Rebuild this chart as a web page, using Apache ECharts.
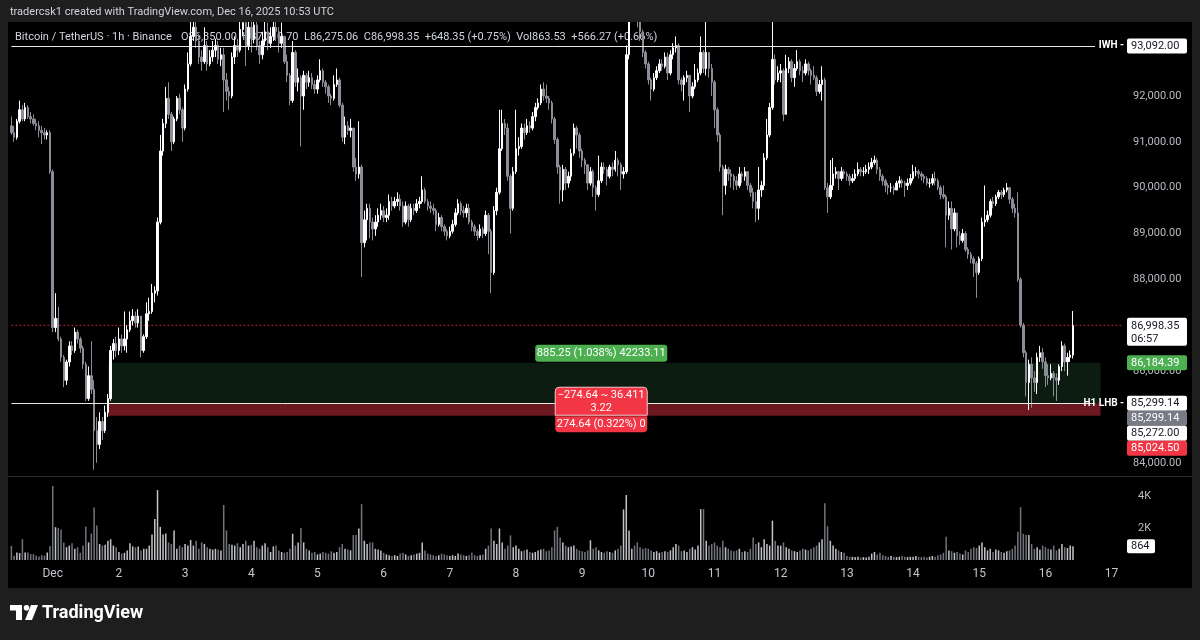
<!DOCTYPE html>
<html><head><meta charset="utf-8">
<script src="https://cdn.jsdelivr.net/npm/echarts@6.0.0/dist/echarts.min.js"></script>
<style>html,body{margin:0;padding:0;background:#000;}#c{width:1200px;height:640px;}</style>
</head><body><div id="c"></div>
<script>
// ---- DATA (BTC/USDT 1h, Binance) : Nov 30 09:00 UTC .. Dec 16 10:00 UTC ----
const FIRST_OPEN = 91350;   // hourly candles open at the previous close
const closes = [
 91200,91100,91450,91700,91500,91750,91550,91500,91400,91350,91250,91200,91150,91200,90350, // Nov30 09-23
 86950,87150,86700,86300,85800,86200,86550,86450,86850,86700,86500,86150,85400,85900,85600,84700,84400,84900,84700,85100,85400,86450,86600,86450, // Dec1
 86700,86550,86700,86900,87100,87200,87050,87200,86450,86750,87250,87300,87700,87750,89250,90800,91400,91950,91600,91000,91500,91950,91700,91300, // Dec2
 92150,92700,93300,93500,93200,92850,92750,93100,92700,92850,93000,93100,92800,92900,92350,92100,92000,92850,93100,93000,93450,93600,93100,93500, // Dec3
 93250,93550,93100,92900,93200,93400,93150,93300,93500,93400,93150,93300,92750,92450,91900,92950,92300,92400,92000,92450,92300,92400,92250,92150, // Dec4
 92350,92550,92300,92200,92000,91950,92250,92350,91800,91100,91350,91250,91300,90450,90300,90450,88800,89300,89550,89250,89100,89250,89400,89500, // Dec5
 89350,89400,89700,89600,89700,89750,89600,89250,89600,89300,89550,89500,89650,89700,89950,89700,89600,89550,89500,89200,89350,89150,89050,88950, // Dec6
 89050,89200,89450,89650,89500,89450,89550,89250,89150,89050,88950,89100,89000,89400,89050,88150,89500,89900,90850,91400,91300,90250,89550,90350, // Dec7
 90850,90900,91300,91200,91350,91300,91550,91750,91850,92150,92000,91950,91850,91500,91050,90450,89950,90400,90100,90250,90750,91300,91150,90800, // Dec8
 90600,90500,90100,90350,90000,89850,90150,90450,90400,90250,90450,90400,90600,90500,90300,90350,92900,94100,94200,94000,93800,93400,92950,92700, // Dec9
 92350,92150,92400,92550,92700,92650,92850,92500,92900,93050,93100,92350,92250,92400,92450,92000,92200,92350,92500,92950,92600,92950,92600,92300, // Dec10
 91700,91150,90450,90050,90400,90300,90250,90150,90050,90300,90250,90350,90050,89900,89700,89550,89950,90050,90650,91150,91750,92800,92350,92500, // Dec11
 92550,91600,92600,92750,92400,92600,92750,92550,92500,92700,92550,92450,92400,92100,92250,92350,90000,89800,90050,90300,90350,90200,90350,90300, // Dec12
 90250,90150,90200,90300,90400,90350,90350,90400,90450,90550,90600,90400,90250,90150,90050,90000,90000,89950,90100,90150,90100,90050,90100,90200, // Dec13
 90350,90350,90300,90250,90200,90100,90100,90200,90150,90000,89850,89800,89400,89550,89100,89450,88950,88850,89000,88650,88550,88450,88350,88150, // Dec14
 88450,89250,89300,89400,89700,89650,89800,89900,89850,89950,90000,89750,89550,89450,88000,87000,86400,85750,86150,85850,85750,86300,86400,86200, // Dec15
 85900,85850,85950,85850,85800,86100,86550,86200,86300,86350,86998.35 // Dec16 00-10
];
const highs = [
 91550,91350,91500,91900,91800,91850,91800,91650,91600,91500,91450,91350,91300,91250,91250,
 90400,87700,87400,86750,86350,86250,86650,86650,86950,86900,86750,86550,86200,86100,86650,85800,85000,85100,85000,85250,85500,86550,86700,86750,
 86950,86800,87300,87000,87300,87350,87300,87350,87200,86800,87500,87600,87900,87850,89350,91150,91500,92200,92300,91650,91550,92000,92050,91750,
 92250,92950,93800,94000,93900,93350,93000,93500,93200,93000,93200,93250,93200,93050,93050,92500,92200,92950,93300,93250,93900,94100,93900,93800,
 93650,93900,93700,93200,93400,93900,93600,93500,93800,93700,93500,93600,93300,92900,92500,93200,93000,92600,92450,92550,92500,92550,92500,92350,
 92450,92800,92600,92350,92250,92050,92450,92600,92400,91850,91550,91450,91500,91300,90650,91450,90500,89500,89650,89650,89350,89400,89550,89650,
 89600,89550,89850,89800,89800,89900,89850,89700,89700,89650,89650,89650,89750,89800,90250,90000,89750,89700,89650,89550,89450,89400,89200,89100,
 89150,89300,89550,89750,89700,89600,89650,89650,89300,89200,89100,89200,89150,89500,89450,89100,89600,90000,91700,91700,91500,91400,90300,90450,
 91700,91100,91400,91400,91500,91450,91650,91850,91950,92250,92300,92250,92000,91900,91550,91100,90500,90500,90450,90350,90850,91400,91350,91200,
 90850,90650,90500,90450,90400,90050,90700,90550,90550,90450,90500,90550,90800,90650,90550,90450,93100,94600,94600,94400,94200,93900,93450,93000,
 92750,92400,92500,92650,92800,92800,92950,92950,93000,93150,93300,93150,92400,92450,92550,92450,92300,92700,92600,93300,93000,94400,92950,92700,
 92350,91750,91200,90500,90500,90450,90400,90300,90250,90450,90350,90450,90350,90100,90000,89900,90450,90150,90750,91500,91850,93700,92900,92650,
 92700,92600,92900,92850,92800,92700,93000,92800,92650,92800,92750,92600,92650,92450,92350,92650,92400,90100,90600,90650,90450,90350,90450,90400,
 90350,90300,90300,90400,90550,90450,90450,90500,90550,90650,90700,90650,90450,90300,90200,90100,90100,90050,90150,90250,90200,90150,90200,90300,
 90500,90450,90400,90350,90300,90250,90200,90300,90350,90200,90050,90050,89850,89700,89700,89550,89450,89050,89100,89050,88700,88600,88500,88400,
 88500,89350,90050,89500,89750,89800,89850,89950,89950,90000,90100,90000,89800,89650,89900,88050,87050,86450,86250,86300,86000,86400,86550,86500,
 86300,86150,86150,86000,85950,86150,86650,86600,86400,86450,87310.70
];
const lows = [
 91150,91000,91050,91400,91450,91450,91500,91400,91350,91250,91100,90950,91050,91050,90300,
 86850,86850,86650,86200,85650,85700,86100,86350,86400,86600,86400,86050,85350,85350,85500,83850,84000,84300,84500,84650,85000,85350,86250,86300,
 86350,86400,86450,86400,86850,87000,86950,86950,86300,86400,86700,87100,87250,87500,87650,89200,90700,91300,91500,90800,90950,91450,91600,91000,
 91250,92100,92650,93200,93050,92700,92550,92700,92550,92650,92750,92850,92700,92650,91650,91900,91700,91950,92700,92850,92950,93300,92650,93000,
 92950,93150,93000,92700,92800,93100,93000,93050,93200,93200,92950,93050,92700,92300,91800,91850,92200,92100,90900,91700,92150,92200,92150,92050,
 92050,92300,92200,92050,91850,91800,91900,92200,91750,91000,90950,91150,91100,90350,90150,90200,88050,88700,88850,88900,88850,88950,89150,89300,
 89250,89250,89300,89500,89550,89600,89500,89150,89200,89150,89250,89400,89450,89550,89650,89650,89500,89450,89400,89050,89150,89050,88950,88850,
 88900,89000,89150,89400,89400,89350,89350,89200,89050,88950,88850,88900,88900,88950,88550,87700,88100,89400,89850,90800,91150,90150,89000,89500,
 90300,90700,90850,91050,91150,91200,91250,91450,91700,91800,91900,91850,91700,91400,90950,90300,89650,89700,89950,90000,90150,90700,90850,90650,
 90450,90300,89950,90050,89800,89500,89800,90100,90300,90050,90200,90250,90350,90250,89950,90200,90300,92800,93900,93800,93500,93200,92850,92600,
 92250,91900,92100,92350,92500,92550,92600,92350,92450,92800,92950,92250,92100,91900,92300,91650,91950,92150,92300,92450,92500,92450,92400,92000,
 91300,91000,90350,89400,89850,90150,90000,89950,89950,90000,90100,90150,89950,89800,89550,89250,89300,89800,89950,90600,91100,91700,92250,92300,
 92300,91450,91600,92500,92300,92200,92550,92450,92300,92450,92450,92250,92350,92000,92050,91900,89950,89450,89750,89950,90200,89950,90150,90200,
 90150,90050,90100,90150,90250,90250,90250,90300,90300,90400,90500,90300,90150,90050,89900,89850,89900,89850,89950,90000,90000,89800,89950,90050,
 90150,90250,90200,90150,90100,90050,90000,90050,90050,89950,89750,89750,88700,89300,88650,89050,88700,88750,88800,88600,88450,88350,88050,87600,
 88100,88400,89150,89250,89350,89550,89600,89750,89750,89800,89900,89650,89450,89350,87950,86950,86300,85450,85150,85200,85550,85500,86200,86050,
 85650,85700,85800,85450,85350,85700,86000,86000,85900,86200,86275.06
];
const volumes = [
 880,270,470,430,1300,470,470,370,370,270,220,300,270,470,880,
 4630,2050,2000,1900,1100,800,900,1050,700,800,450,900,2100,1100,1650,3280,2150,1000,900,950,1200,1300,900,800,
 500,400,450,600,1050,850,800,850,600,700,700,900,1600,2560,4370,2070,1600,1650,1100,1000,1850,700,900,800,
 1000,900,1250,900,1200,700,1100,1000,800,700,650,700,650,600,3440,1850,1000,950,900,1050,800,1000,1200,900,
 950,1200,800,700,900,1050,800,500,850,900,600,500,450,500,700,1640,900,1100,2000,1100,700,600,450,500,
 350,400,500,450,400,550,450,500,800,1000,700,650,600,1560,1560,1970,3490,1200,1000,1100,1100,700,650,600,
 450,350,300,250,300,250,400,450,350,250,300,350,400,450,1100,600,400,350,300,250,300,400,350,300,
 250,300,250,400,350,300,250,300,450,300,250,300,350,700,900,1970,1200,1000,1970,1100,700,900,1540,800,
 900,700,550,600,650,500,450,500,600,650,700,550,600,800,1850,2070,1400,1100,900,800,850,900,700,600,
 550,500,600,1230,700,800,600,500,450,550,500,450,600,700,900,3160,4060,1850,700,900,1100,800,700,750,
 700,600,500,550,450,500,550,500,600,800,1000,900,550,600,500,700,800,650,900,3180,3180,1200,900,1000,
 1100,900,800,1200,800,700,600,550,600,700,500,550,500,700,1400,1000,1100,800,1300,1000,900,2460,1200,900,
 900,1100,800,700,600,550,500,600,700,650,600,700,800,900,1100,1300,3550,2110,1200,900,700,600,500,450,
 250,200,200,180,200,150,180,150,200,400,500,350,450,300,250,200,250,200,180,200,250,200,180,200,
 200,250,200,180,200,150,200,250,200,300,350,450,1450,600,550,450,500,400,350,600,500,700,800,750,
 900,1100,800,600,700,500,650,600,500,450,550,600,700,900,1760,3300,1640,1560,1560,1000,700,800,650,900,
 800,700,650,900,600,700,1000,800,750,900,864
];
const priceTicks = [84000, 86000, 88000, 89000, 90000, 91000, 92000];
const volTicks = [2000, 4000];
// drawn levels
const IWH = 93092.00, H1LHB = 85299.14, LAST = 86998.35;
const TARGET = 86184.39, ENTRY = 85299.14, STOP = 85024.50, STOP_LBL = 85272.00;
const POS_START = 35, POS_END = 395;   // candle indexes of the position tool
const LAST_VOL = 864;

// ---- chart ----
const SLOTS = 404;
const start = Date.UTC(2025, 10, 30, 9);
const cats = [];
for (let k = 0; k < SLOTS; k++) cats.push(new Date(start + k * 3600e3).toISOString().slice(0, 13));
const opens = closes.map((c, i) => i === 0 ? FIRST_OPEN : closes[i - 1]);
const candles = closes.map((c, i) => {
  const o = opens[i];
  return [o, c, Math.min(lows[i], o, c), Math.max(highs[i], o, c)];
});
const UP = '#ffffff', DOWN = '#8b8e97';
const vols = volumes.map((v, i) => ({ value: v, itemStyle: { color: closes[i] >= opens[i] ? 'rgba(215,216,220,0.9)' : 'rgba(125,128,138,0.9)' } }));
const fmt2 = v => v.toLocaleString('en-US', { minimumFractionDigits: 2, maximumFractionDigits: 2 });
const FONT = 'Roboto, "Noto Sans", sans-serif';

const chart = echarts.init(document.getElementById('c'));
chart.setOption({
  animation: false,
  backgroundColor: '#000000',
  grid: [
    { left: 10, top: 22, width: 1114, height: 454 },
    { left: 10, top: 477, width: 1114, height: 83 }
  ],
  xAxis: [
    { type: 'category', gridIndex: 0, data: cats, boundaryGap: true,
      axisLine: { show: false }, axisTick: { show: false }, axisLabel: { show: false }, splitLine: { show: false } },
    { type: 'category', gridIndex: 1, data: cats, boundaryGap: true,
      axisLine: { show: false }, axisTick: { show: false }, splitLine: { show: false },
      axisLabel: { show: true, interval: (idx, val) => val.endsWith('T00'),
        formatter: val => { const d = parseInt(val.slice(8, 10), 10); return d === 1 ? 'Dec' : String(d); },
        color: '#c3c6cc', fontSize: 12, fontFamily: FONT, margin: 8 } }
  ],
  yAxis: [
    { type: 'value', gridIndex: 0, position: 'right', min: 83712, max: 93614,
      splitLine: { show: false }, axisLine: { show: false }, axisTick: { show: false },
      axisLabel: { customValues: priceTicks, formatter: fmt2, color: '#b8bbc2', fontSize: 11, fontFamily: FONT, margin: 9 } },
    { type: 'value', gridIndex: 1, position: 'right', min: 0, max: 5187,
      splitLine: { show: false }, axisLine: { show: false }, axisTick: { show: false },
      axisLabel: { customValues: volTicks, formatter: v => (v / 1000) + 'K', color: '#b8bbc2', fontSize: 11, fontFamily: FONT, margin: 14 } }
  ],
  series: [
    { type: 'candlestick', xAxisIndex: 0, yAxisIndex: 0, data: candles, barWidth: '72%', clip: true, z: 3,
      itemStyle: { color: UP, color0: DOWN, borderColor: UP, borderColor0: DOWN, borderWidth: 1 },
      markArea: { silent: true, z: 1, data: [
        [{ coord: [POS_START, TARGET], itemStyle: { color: '#0d1c11' } }, { coord: [POS_END, ENTRY] }],
        [{ coord: [POS_START, ENTRY], itemStyle: { color: '#6b1820' } }, { coord: [POS_END, STOP] }]
      ] },
      markLine: { silent: true, symbol: ['none', 'none'], label: { show: false },
        lineStyle: { color: '#e6e6e6', width: 1, type: 'solid' }, data: [
        [{ coord: [0, IWH] }, { coord: [393, IWH] }],
        [{ coord: [0, H1LHB] }, { coord: [393, H1LHB] }]
      ] } },
    { type: 'line', xAxisIndex: 0, yAxisIndex: 0, z: 2, silent: true, symbol: 'none',
      data: [[0, LAST], [SLOTS - 1, LAST]],
      lineStyle: { color: '#b4222e', width: 1, type: [2, 2] } },
    { type: 'bar', xAxisIndex: 1, yAxisIndex: 1, data: vols, barWidth: '55%' }
  ]
});

// ---- overlay labels placed through the axes ----
const yP = v => chart.convertToPixel({ yAxisIndex: 0 }, v);
const yV = v => chart.convertToPixel({ yAxisIndex: 1 }, v);
const xP = i => chart.convertToPixel({ xAxisIndex: 0 }, i);
const G = [];
const Z = 50;
function rect(x, y, w, h, fill, r, extra) { G.push(Object.assign({ type: 'rect', z: Z, shape: { x, y, width: w, height: h, r: r || 0 }, style: { fill } }, extra || {})); }
function txt(x, y, text, fill, font, align) { G.push({ type: 'text', z: Z + 1, x, y, style: { text, fill, font, textAlign: align || 'left', textVerticalAlign: 'middle' } }); }
function priceBox(yc, fill, text, tcol) { rect(1127, yc - 7.5, 60, 15, fill, 2); txt(1131, yc + 0.5, text, tcol, '11px ' + FONT); }

// frame
rect(0, 0, 1200, 22, '#1e1e1e'); rect(0, 588, 1200, 52, '#1e1e1e');
rect(0, 0, 8, 640, '#1e1e1e'); rect(1192, 0, 8, 640, '#1e1e1e');
G.push({ type: 'line', z: Z, shape: { x1: 8, y1: 476.5, x2: 1192, y2: 476.5 }, style: { stroke: '#2c2c2c', lineWidth: 1 } });
txt(10, 12, 'tradercsk1 created with TradingView.com, Dec 16, 2025 10:53 UTC', '#d1d4dc', '11px ' + FONT);
// legend (under the candles)
G.push({ type: 'text', z: 0, x: 15, y: 37, style: { text: 'Bitcoin / TetherUS · 1h · Binance', fill: '#d1d4dc', font: '11px ' + FONT, textVerticalAlign: 'middle' } });
G.push({ type: 'text', z: 0, x: 181, y: 37, style: { text: 'O86,350.00  H87,310.70  L86,275.06  C86,998.35  +648.35 (+0.75%)  Vol863.53  +566.27 (+0.66%)', fill: '#d1d4dc', font: '11px ' + FONT, textVerticalAlign: 'middle' } });

// right scale labels
const yI = yP(IWH);
txt(1124, yI, 'IWH -', '#ffffff', 'bold 10px ' + FONT, 'right');
priceBox(yI, '#ffffff', fmt2(IWH), '#131722');
const yL = yP(LAST);
rect(1127, yL - 7.5, 60, 28, '#ffffff', 2);
txt(1131, yL + 0.5, fmt2(LAST), '#131722', '11px ' + FONT);
txt(1131, yL + 13.5, '06:57', '#131722', '11px ' + FONT);
priceBox(yP(TARGET), '#4caf50', fmt2(TARGET), '#ffffff');
const yE = yP(ENTRY);
txt(1124, yE, 'H1 LHB -', '#ffffff', 'bold 10px ' + FONT, 'right');
priceBox(yE, '#ffffff', fmt2(H1LHB), '#131722');
priceBox(yE + 15, '#787b86', fmt2(ENTRY), '#ffffff');
priceBox(yE + 30, '#ffffff', fmt2(STOP_LBL), '#131722');
priceBox(yE + 45, '#f23645', fmt2(STOP), '#ffffff');
// volume last value
const yv = yV(LAST_VOL);
rect(1127, yv - 7, 28, 14, '#ffffff', 2); txt(1131, yv + 0.5, String(LAST_VOL), '#131722', '11px ' + FONT);

// position tool labels
const xm = (xP(POS_START) + xP(POS_END)) / 2 - 3;
const yT = yP(TARGET);
rect(xm - 66, yT - 18, 132, 17, '#4caf50', 3);
txt(xm, yT - 9, '885.25 (1.038%) 42233.11', '#ffffff', '11px ' + FONT, 'center');
rect(xm - 46, yE - 16, 92, 28, '#f23645', [4, 4, 0, 0], { style: { fill: '#f23645', stroke: '#f5c6cb', lineWidth: 1 } });
txt(xm, yE - 8, '\u2212274.64 ~ 36.411', '#ffffff', '11px ' + FONT, 'center');
txt(xm, yE + 5, '3.22', '#ffffff', '11px ' + FONT, 'center');
rect(xm - 46, yE + 13, 92, 16, '#f23645', [0, 0, 4, 4]);
txt(xm, yE + 21, '274.64 (0.322%) 0', '#ffffff', '11px ' + FONT, 'center');

// TradingView logo
G.push({ type: 'polygon', z: Z, shape: { points: [[10, 605], [22, 605], [22, 620], [16, 620], [16, 610.5], [10, 610.5]] }, style: { fill: '#ffffff' } });
G.push({ type: 'circle', z: Z, shape: { cx: 26.5, cy: 607.8, r: 2.8 }, style: { fill: '#ffffff' } });
G.push({ type: 'polygon', z: Z, shape: { points: [[31, 605], [38, 605], [32, 620], [25, 620]] }, style: { fill: '#ffffff' } });
txt(42, 613, 'TradingView', '#ffffff', 'bold 18px ' + FONT);

chart.setOption({ graphic: G });
</script></body></html>
